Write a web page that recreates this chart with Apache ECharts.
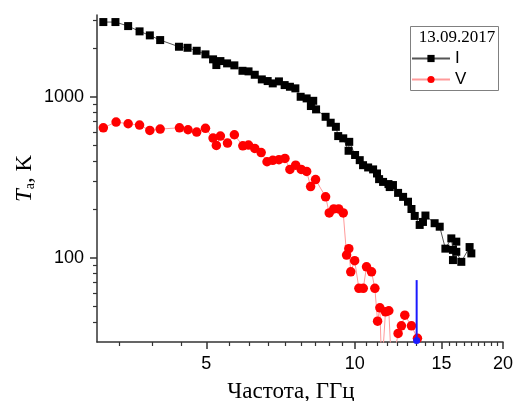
<!DOCTYPE html>
<html>
<head>
<meta charset="utf-8">
<script src="https://cdn.jsdelivr.net/npm/echarts@6/dist/echarts.min.js"></script>
<style>
html,body{margin:0;padding:0;background:#fff;}
#chart{width:518px;height:401px;}
</style>
</head>
<body>
<div id="chart"></div>
<script>
// Series I (black squares): frequency, GHz and brightness temperature, K
var freqI = [3.09,3.27,3.47,3.66,3.84,4.03,4.40,4.58,4.78,4.98,5.16,5.24,5.34,5.51,5.70,5.92,6.09,6.27,6.48,6.66,6.82,7.02,7.21,7.39,7.58,7.77,7.99,8.15,8.24,8.35,8.73,8.94,9.16,9.26,9.48,9.72,9.75,10.02,10.24,10.40,10.65,10.90,11.10,11.21,11.42,11.71,11.78,11.96,12.25,12.54,12.83,13.04,13.24,13.55,13.76,13.92,14.53,14.88,15.28,15.71,15.83,15.83,16.08,16.08,16.46,17.11,17.25];
var tempI = [2911,2911,2748,2548,2406,2250,2045,2015,1931,1834,1708,1574,1666,1612,1567,1450,1438,1370,1282,1252,1211,1246,1182,1154,1128,1000,977,876,944,835,751,690,651,570,552,462,525,435,404,376,364,354,334,308,296,287,275,283,253,239,223,201,182,160,167,183,164,156,114,132,112,96.8,126,109,94.4,116.6,106.5];
// Series V (red circles)
var freqV = [3.09,3.28,3.47,3.66,3.84,4.03,4.41,4.59,4.78,4.98,5.16,5.24,5.34,5.52,5.70,5.93,6.09,6.27,6.46,6.64,6.82,7.02,7.22,7.39,7.59,7.79,7.99,8.14,8.33,8.73,8.88,9.07,9.28,9.48,9.63,9.73,9.82,10.0,10.20,10.41,10.57,10.82,10.99,11.13,11.25,11.35,11.55,11.73,11.89,12.25,12.44,12.64,13.04,13.41];
var tempV = [642,697,680,667,618,630,642,624,604,637,554,499,570,516,581,496,501,478,450,395,403,407,414,354,376,354,344,277,306,239,190,201,201,190,104,114,81.9,96,64.6,64.6,87.9,81.9,64.6,40.4,48.9,20,46.2,46.9,20,33.9,37.8,44,37.8,31.6];
// Blue vertical marker line
var freqBlue = [13.36,13.36];
var tempBlue = [72.7,30.6];
// Axis ticks and labels
var xMajorTicks = [5,10,15,20];
var xMinorTicks = [3.333,3.889,4.444,5.556,6.111,6.667,7.222,7.778,8.333,8.889,9.444,10.556,11.111,11.667,12.222,12.778,13.333,13.889,14.444,15.556,16.111,16.667,17.222,17.778,18.333,18.889,19.444];
var yMajorTicks = [100,1000];
var yMinorTicks = [40,50,60,70,80,90,200,300,400,500,600,700,800,900,2000,3000];
var legendTitle = '13.09.2017';
var seriesNames = ['I','V'];

function pairs(xs, ys){ return xs.map(function(x,i){ return [x, ys[i]]; }); }

var AX = '#333';
var SANS = '"Liberation Sans", Arial, sans-serif';
var SERIF = '"Liberation Serif", "Times New Roman", serif';
var X_MIN = 3, X_MAX = 20, Y_MIN = 30, Y_MAX = 3220;

var chart = echarts.init(document.getElementById('chart'), null, {renderer:'canvas'});
var blueData = pairs(freqBlue, tempBlue).map(function(p, i){
  return i === 0 ? {value:p, symbol:'none'} : {value:p, symbol:'circle', symbolSize:7};
});
chart.setOption({
  animation:false,
  backgroundColor:'#fff',
  grid:{left:97, right:15, top:15, bottom:59, containLabel:false, outerBoundsMode:'none'},
  xAxis:[{
    type:'log', logBase:10, min:X_MIN, max:X_MAX, position:'bottom',
    axisLine:{show:true, lineStyle:{color:AX, width:1.5}},
    axisTick:{show:true, customValues:xMajorTicks, length:7, inside:false, lineStyle:{color:AX, width:1.5}},
    axisLabel:{show:true, customValues:xMajorTicks, margin:13, color:'#000', fontSize:18, fontFamily:SANS,
      formatter:function(v){ return String(Math.round(v)); }},
    splitLine:{show:false},
    name:'Частота, ГГц', nameLocation:'middle', nameGap:38,
    nameTextStyle:{fontFamily:SERIF, fontSize:23, color:'#000', padding:[0,18,0,0]}
  },{
    type:'log', logBase:10, min:X_MIN, max:X_MAX, position:'bottom', offset:0,
    axisLine:{show:false},
    axisTick:{show:true, customValues:xMinorTicks, length:4, inside:false, lineStyle:{color:AX, width:1.2}},
    axisLabel:{show:false}, splitLine:{show:false}
  }],
  yAxis:[{
    type:'log', logBase:10, min:Y_MIN, max:Y_MAX, position:'left',
    axisLine:{show:true, lineStyle:{color:AX, width:1.5}},
    axisTick:{show:true, customValues:yMajorTicks, length:7, inside:false, lineStyle:{color:AX, width:1.5}},
    axisLabel:{show:true, customValues:yMajorTicks, margin:13, color:'#000', fontSize:18, fontFamily:SANS,
      formatter:function(v){ return String(Math.round(v)); }},
    splitLine:{show:false},
    name:'{t|T}{s|a}{n|, K}', nameLocation:'middle', nameGap:60, nameRotate:90, nameMoveOverlap:false,
    nameTextStyle:{color:'#000', rich:{
      t:{fontFamily:SERIF, fontSize:23, fontStyle:'italic', color:'#000'},
      s:{fontFamily:SERIF, fontSize:14, color:'#000', padding:[10,0,0,0]},
      n:{fontFamily:SERIF, fontSize:23, color:'#000'}
    }}
  },{
    type:'log', logBase:10, min:Y_MIN, max:Y_MAX, position:'left', offset:0,
    axisLine:{show:false},
    axisTick:{show:true, customValues:yMinorTicks, length:4, inside:false, lineStyle:{color:AX, width:1.2}},
    axisLabel:{show:false}, splitLine:{show:false}
  }],
  legend:{
    data:seriesNames, orient:'vertical', left:411, top:50, itemWidth:38, itemHeight:9, itemGap:4,
    textStyle:{fontFamily:SANS, fontSize:17, color:'#000', lineHeight:17}, padding:0
  },
  graphic:[
    {type:'rect', shape:{x:410.5, y:26.5, width:88, height:64}, style:{fill:'none', stroke:'#808080', lineWidth:1}, z:100},
    {type:'text', x:457, y:38, style:{text:legendTitle, font:'17px ' + SERIF, fill:'#000', align:'center', verticalAlign:'middle'}, z:100}
  ],
  series:[{
    name:'I', type:'line', xAxisIndex:0, yAxisIndex:0, data:pairs(freqI, tempI),
    symbol:'rect', symbolSize:8, showAllSymbol:true,
    itemStyle:{color:'#000'}, lineStyle:{color:'#555', width:1}, z:3
  },{
    name:'V', type:'line', xAxisIndex:0, yAxisIndex:0, data:pairs(freqV, tempV),
    symbol:'circle', symbolSize:9.5, showAllSymbol:true,
    itemStyle:{color:'#ff0000'}, lineStyle:{color:'#ff9a9a', width:1}, z:4
  },{
    name:'blue', type:'line', xAxisIndex:0, yAxisIndex:0, data:blueData,
    itemStyle:{color:'#1a1aff'}, lineStyle:{color:'#1a1aff', width:2}, z:5
  }]
});
</script>
</body>
</html>
